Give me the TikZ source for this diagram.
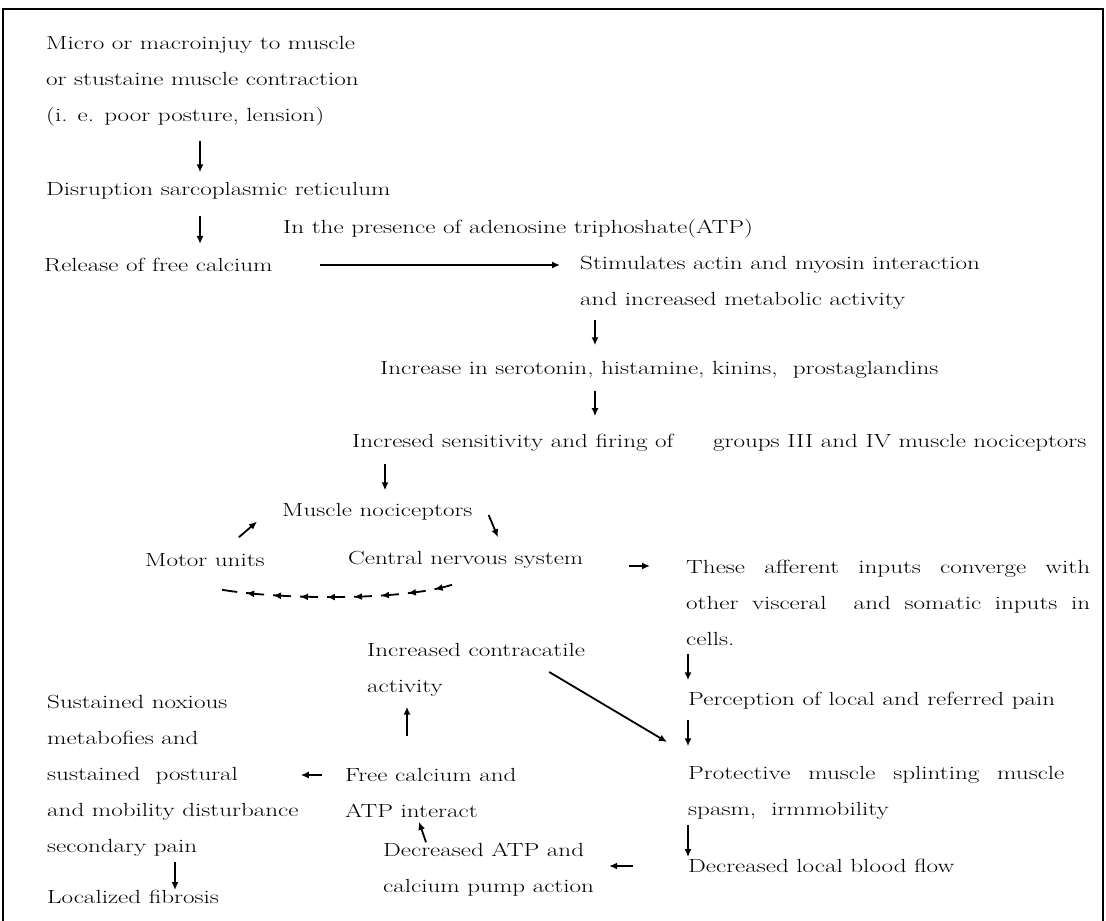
\documentclass[tikz,border=0pt]{standalone}
\usepackage{graphicx}
\usepackage{tikz}
\usetikzlibrary{arrows.meta,calc,decorations.markings}

% wide lettering of the original print
\newcommand{\wl}[1]{\scalebox{1.32}[1]{#1}}
\newcommand{\spread}[2]{\makebox[#1][s]{#2}}

\tikzset{
  txt/.style={anchor=west, inner sep=0pt, align=left, font=\fontsize{19}{36}\selectfont},
  flow/.style={line width=1.8pt, -{Latex[length=8pt,width=7pt]}},
  loopback/.style={line width=1.8pt, dash pattern=on 18pt off 9pt,
    decoration={markings, mark=between positions 18pt and 1 step 27pt with {\arrow{Latex[length=8pt,width=7pt]}}},
    postaction={decorate}},
}

\begin{document}
\begin{tikzpicture}[x=1pt, y=-1pt]
\useasboundingbox (0,0) rectangle (1106,921);
% --- Frame ---
\draw[line width=1.5pt] (3,921) -- (3,9) -- (1103,9) -- (1103,921);

% --- Left column: onset ---
\node[txt] (injury) at (46,81) {\wl{Micro or macroinjuy to muscle}\\\wl{or stustaine muscle contraction}\\\wl{(i. e. poor posture, lension)}};
\node[txt] (disrupt) at (46,191) {\wl{Disruption sarcoplasmic reticulum}};
\node[txt] (atp) at (283,229) {\wl{In the presence of adenosine triphoshate(ATP)}};
\node[txt] (release) at (44,265) {\wl{Release of free calcium}};

% --- Middle chain ---
\node[txt] (stim) at (580,283) {\wl{Stimulates actin and myosin interaction}\\\wl{and increased metabolic activity}};
\node[txt] (increase) at (380,370) {\wl{Increase in serotonin, histamine, kinins,\ \ prostaglandins}};
\node[txt] (sens) at (352,443) {\wl{Incresed sensitivity and firing of\hspace{30pt}groups III and IV muscle nociceptors}};
\node[txt] (noci) at (282,512) {\wl{Muscle nociceptors}};
\node[txt] (motor) at (145,560) {\wl{Motor units}};
\node[txt] (cns) at (348,560) {\wl{Central nervous system}};

% --- Right column ---
\node[txt] (aff) at (686,603) {\wl{\spread{306pt}{These afferent inputs converge with}}\\\wl{\spread{306pt}{other visceral \ and somatic inputs in}}\\\wl{cells.}};
\node[txt] (perc) at (688,701) {\wl{Perception of local and referred pain}};
\node[txt] (prot) at (688,793) {\wl{\spread{285pt}{Protective muscle splinting muscle}}\\\wl{spasm,\ \ irmmobility}};
\node[txt] (blood) at (688,866) {\wl{Decreased local blood flow}};

% --- Lower cycle ---
\node[txt] (contr) at (367,670) {\wl{Increased contracatile}\\\wl{activity}};
\node[txt] (freeca) at (345,793) {\wl{Free calcium and}\\\wl{ATP interact}};
\node[txt] (decatp) at (383,870) {\wl{Decreased ATP and}\\\wl{calcium pump action}};
\node[txt] (sust) at (47,776) {\wl{Sustained noxious}\\\wl{metabofies and}\\\wl{sustained\ \ postural}\\\wl{and mobility disturbance}\\\wl{secondary pain}};
\node[txt] (fibrosis) at (47,897) {\wl{Localized fibrosis}};

% --- Connectors ---
\draw[flow, shorten <=15pt, shorten >=10pt] ([xshift=154pt]injury.south west) -- ([xshift=154pt]disrupt.north west);
\draw[flow, shorten <=16pt, shorten >=14pt] ([xshift=154pt]disrupt.south west) -- ([xshift=156pt]release.north west);
\draw[flow, shorten <=47pt, shorten >=20pt] (release.east) -- (release.east -| stim.west);
\draw[flow, shorten <=10pt, shorten >=16pt] ([xshift=15pt]stim.south west) -- ([xshift=215pt]increase.north west);
\draw[flow, shorten <=12pt, shorten >=18pt] ([xshift=215pt]increase.south west) -- ([xshift=243pt]sens.north west);
\draw[flow, shorten <=12pt, shorten >=13pt] ([xshift=33pt]sens.south west) -- ([xshift=103pt]noci.north west);
\draw[flow] ([shift={(-26pt,16pt)}]motor.north east) -- ([shift={(-25pt,-1pt)}]noci.south west);
\draw[flow] ([shift={(16pt,-3pt)}]noci.east) -- ([shift={(150pt,14pt)}]cns.north west);
\draw[loopback] ([shift={(104pt,-16pt)}]cns.south west) .. controls +(-50,16) and +(60,10) .. ([shift={(77pt,-23pt)}]motor.south west);
\draw[flow, shorten <=45pt, shorten >=36pt] ([yshift=-6pt]cns.east) -- ([yshift=-6pt]cns.east -| aff.west);
\draw[flow, shorten <=8pt, shorten >=12pt] ([xshift=2pt]aff.south west) -- (perc.north west);
\draw[flow, shorten <=10pt, shorten >=20pt] (perc.south west) -- (prot.north west);
\draw[flow] ([shift={(-36pt,-2pt)}]contr.east) -- ([shift={(-21pt,51pt)}]prot.west);
\draw[flow, shorten <=32pt, shorten >=10pt] ([xshift=62pt]freeca.north west) -- ([xshift=40pt]contr.south west);
\draw[flow, shorten <=23pt, shorten >=2pt] ([yshift=18pt]freeca.west) -- ([yshift=18pt]freeca.west -| sust.east);
\draw[flow] ([shift={(43pt,1pt)}]decatp.north west) -- ([shift={(74pt,-4pt)}]freeca.south west);
\draw[flow, shorten <=55pt, shorten >=15pt] (blood.west) -- (blood.west -| decatp.east);
\draw[flow, shorten <=5pt, shorten >=2pt] (prot.south west) -- (blood.north west);
\draw[flow, shorten <=5pt, shorten >=0pt] ([xshift=128pt]sust.south west) -- ([xshift=128pt]fibrosis.north west);
\end{tikzpicture}
\end{document}
